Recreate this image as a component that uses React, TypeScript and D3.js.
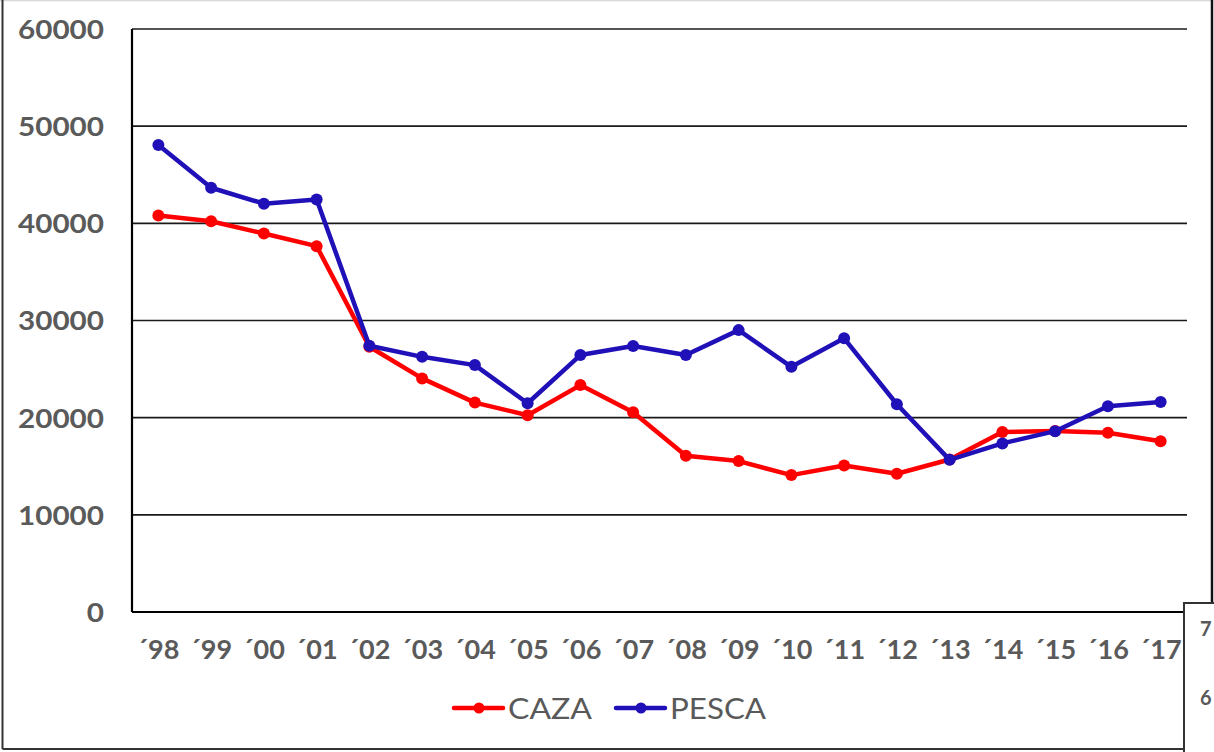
import React from "react";
import * as d3 from "d3";

const categories = ["´98","´99","´00","´01","´02","´03","´04","´05","´06","´07","´08","´09","´10","´11","´12","´13","´14","´15","´16","´17"];
const caza = [40800,40220,38950,37650,27300,24040,21550,20250,23350,20560,16080,15530,14090,15080,14230,15690,18530,18630,18450,17580];
const pesca = [48070,43660,42020,42460,27400,26260,25410,21480,26440,27370,26440,29010,25230,28170,21380,15660,17350,18610,21180,21620];
const yTicks = [0,10000,20000,30000,40000,50000,60000];
const seriesNames = ["CAZA","PESCA"];
const seriesColors = ["#ff0000","#2010b8"];
const sideTicks = ["7","6","5"];

const W = 1214, H = 752;
const plot = { left: 132, right: 1187, top: 29, bottom: 612 };

export default function App() {
  const x = d3.scaleBand<string>().domain(categories).range([plot.left, plot.right]).paddingInner(0).paddingOuter(0);
  const y = d3.scaleLinear().domain([0, 60000]).range([plot.bottom, plot.top]);
  const cx = (c: string) => (x(c) as number) + x.bandwidth() / 2;
  const line = d3.line<number>().x((_, i) => cx(categories[i])).y((d) => y(d));
  const series = [caza, pesca];
  const sideY = d3.scalePoint<string>().domain(sideTicks).range([636, 774]);

  return (
    <svg width={W} height={H} style={{ position: "absolute", left: 0, top: 0, background: "#fff" }} fontFamily="Lato, 'DejaVu Sans', sans-serif">
      <rect x={0} y={0} width={W} height={H} fill="#fff" />
      {/* outer frame */}
      <line x1={0} x2={1212} y1={0.5} y2={0.5} stroke="#d8d8d8" strokeWidth={1.5} />
      <line x1={2.5} x2={2.5} y1={0} y2={749} stroke="#333" strokeWidth={2} />
      <line x1={2.5} x2={1184} y1={749} y2={749} stroke="#333" strokeWidth={2} />
      <line x1={1212} x2={1212} y1={0} y2={603} stroke="#111" strokeWidth={2.5} />
      {/* gridlines */}
      {yTicks.filter((t) => t > 0).map((t) => (
        <line key={t} x1={plot.left} x2={plot.right} y1={y(t)} y2={y(t)} stroke="#1a1a1a" strokeWidth={1.6} />
      ))}
      {/* axes */}
      <line x1={plot.left} x2={plot.left} y1={plot.top} y2={plot.bottom} stroke="#000" strokeWidth={2.2} />
      <line x1={plot.left} x2={plot.right} y1={plot.bottom} y2={plot.bottom} stroke="#000" strokeWidth={2.2} />
      {/* y labels */}
      {yTicks.map((t) => (
        <text key={t} x={104} y={y(t)} dy="0.36em" textAnchor="end" fontSize={27.5} fontWeight={700} fill="#5a5a5a"
          textLength={String(t).length * 17.2} lengthAdjust="spacingAndGlyphs">{t}</text>
      ))}
      {/* x labels */}
      {categories.map((c) => (
        <text key={c} x={cx(c)} y={659} textAnchor="middle" fontSize={27} fontWeight={700} fill="#5a5a5a">{c}</text>
      ))}
      {/* series */}
      {series.map((s, si) => (
        <g key={si}>
          <path d={line(s) as string} fill="none" stroke={seriesColors[si]} strokeWidth={4.5} strokeLinejoin="round" />
          {s.map((v, i) => (
            <circle key={i} cx={cx(categories[i])} cy={y(v)} r={6} fill={seriesColors[si]} />
          ))}
        </g>
      ))}
      {/* legend */}
      {seriesNames.map((n, i) => {
        const lx = i === 0 ? 454 : 616;
        return (
          <g key={n}>
            <line x1={lx} x2={lx + 49} y1={708} y2={708} stroke={seriesColors[i]} strokeWidth={4.5} strokeLinecap="round" />
            <circle cx={lx + 25} cy={708} r={5.5} fill={seriesColors[i]} />
            <text x={lx + 54} y={719} fontSize={29} fill="#595959" textLength={i === 0 ? 84 : 96} lengthAdjust="spacingAndGlyphs">{n}</text>
          </g>
        );
      })}
      {/* neighbouring chart box */}
      <rect x={1184} y={603} width={40} height={160} fill="#fff" stroke="#333" strokeWidth={2} />
      {sideTicks.map((t) => (
        <text key={t} x={1200} y={sideY(t)} fontSize={20} fontWeight={700} fill="#595959">{t}</text>
      ))}
    </svg>
  );
}
